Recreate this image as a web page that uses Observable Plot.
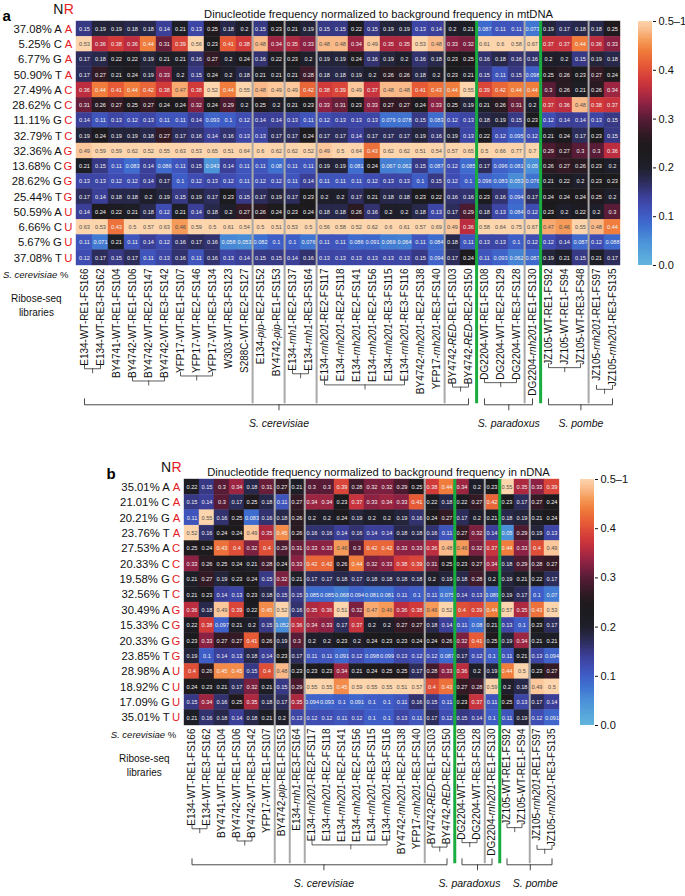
<!DOCTYPE html>
<html><head><meta charset="utf-8">
<script src="https://cdn.jsdelivr.net/npm/d3@7"></script>
<script src="https://cdn.jsdelivr.net/npm/@observablehq/plot@0.6"></script>
<style>
body{margin:0;background:#fff;}
#root{width:685px;}
.panel{position:relative;width:685px;height:448px;overflow:visible;}
.panel svg{position:absolute;top:0;overflow:visible;}
</style></head><body><div id="root"></div>
<script>
// ---------------- DATA ----------------
const titleA = "Dinucleotide frequency normalized to background frequency in mtDNA";
const titleB = "Dinucleotide frequency normalized to background frequency in nDNA";
const pctA = ["37.08%","5.25%","6.77%","50.90%","27.49%","28.62%","11.11%","32.79%","32.36%","13.68%","28.62%","25.44%","50.59%","6.66%","5.67%","37.08%"];
const pctB = ["35.01%","21.01%","20.21%","23.76%","27.53%","20.33%","19.58%","32.56%","30.49%","15.33%","20.33%","23.85%","28.98%","18.92%","17.09%","35.01%"];
const nLetters = ["A","C","G","T","A","C","G","T","A","C","G","T","A","C","G","T"];
const rLetters = ["A","A","A","A","C","C","C","C","G","G","G","G","U","U","U","U"];
const colorTicks = [0, 0.1, 0.2, 0.3, 0.4, 0.5];
const colorTickLabels = ["0.0","0.1","0.2","0.3","0.4","0.5–1"];

const colsA = ["E134-WT-RE1-FS166","E134-WT-RE3-FS162","BY4741-WT-RE1-FS104","BY4742-WT-RE1-FS106","BY4742-WT-RE2-FS147","BY4742-WT-RE3-FS142","YFP17-WT-RE1-FS107","YFP17-WT-RE2-FS146","YFP17-WT-RE3-FS134","W303-WT-RE3-FS123","S288C-WT-RE2-FS127","E134-pip-RE2-FS152","BY4742-pip-RE1-FS153","E134-rnh1-RE2-FS137","E134-rnh1-RE3-FS164","E134-rnh201-RE2-FS117","E134-rnh201-RE2-FS118","E134-rnh201-RE2-FS141","E134-rnh201-RE2-FS156","E134-rnh201-RE3-FS115","E134-rnh201-RE3-FS116","BY4742-rnh201-RE2-FS138","YFP17-rnh201-RE3-FS140","BY4742-RED-RE1-FS103","BY4742-RED-RE2-FS150","DG2204-WT-RE1-FS108","DG2204-WT-RE2-FS129","DG2204-WT-RE3-FS128","DG2204-rnh201-RE1-FS130","JZ105-WT-RE1-FS92","JZ105-WT-RE1-FS94","JZ105-WT-RE3-FS48","JZ105-rnh201-RE1-FS97","JZ105-rnh201-RE3-FS135"];

const valsA = [
 [0.15,0.19,0.19,0.18,0.18,0.14,0.21,0.13,0.25,0.18,0.2, 0.15,0.23, 0.21,0.19, 0.15,0.15,0.22,0.15,0.19,0.19,0.13,0.14, 0.2,0.21, 0.087,0.11,0.11, 0.073, 0.19,0.17,0.18, 0.18,0.25],
 [0.53,0.36,0.38,0.36,0.44,0.31,0.39,0.56,0.23,0.41,0.38, 0.48,0.34, 0.35,0.33, 0.48,0.48,0.34,0.49,0.35,0.35,0.53,0.48, 0.33,0.32, 0.61,0.6,0.58, 0.67, 0.37,0.37,0.44, 0.36,0.33],
 [0.17,0.18,0.22,0.22,0.19,0.21,0.21,0.16,0.27,0.2,0.24, 0.16,0.22, 0.23,0.2, 0.19,0.19,0.24,0.16,0.19,0.2,0.16,0.18, 0.23,0.25, 0.16,0.18,0.16, 0.16, 0.2,0.2,0.15, 0.19,0.18],
 [0.17,0.27,0.21,0.24,0.19,0.33,0.2,0.15,0.24,0.2,0.18, 0.21,0.21, 0.21,0.28, 0.18,0.18,0.19,0.2,0.26,0.26,0.18,0.2, 0.23,0.21, 0.15,0.11,0.15, 0.098, 0.25,0.26,0.23, 0.27,0.24],
 [0.36,0.44,0.41,0.44,0.42,0.38,0.47,0.38,0.52,0.44,0.55, 0.48,0.49, 0.49,0.42, 0.38,0.39,0.49,0.37,0.48,0.48,0.41,0.43, 0.44,0.55, 0.39,0.42,0.44, 0.44, 0.3,0.26,0.21, 0.26,0.34],
 [0.31,0.26,0.27,0.25,0.27,0.24,0.24,0.32,0.24,0.29,0.2, 0.25,0.2, 0.21,0.23, 0.33,0.31,0.23,0.33,0.27,0.27,0.24,0.33, 0.25,0.19, 0.21,0.26,0.31, 0.2, 0.37,0.36,0.48, 0.38,0.37],
 [0.14,0.11,0.13,0.12,0.13,0.11,0.11,0.14,0.093,0.1,0.12, 0.14,0.14, 0.13,0.11, 0.12,0.13,0.13,0.13,0.079,0.078,0.15,0.083, 0.12,0.13, 0.18,0.19,0.15, 0.23, 0.12,0.14,0.14, 0.13,0.15],
 [0.19,0.24,0.19,0.19,0.18,0.27,0.17,0.16,0.14,0.16,0.13, 0.13,0.17, 0.17,0.24, 0.17,0.17,0.14,0.17,0.17,0.17,0.19,0.16, 0.19,0.13, 0.22,0.12,0.095, 0.12, 0.21,0.24,0.17, 0.23,0.15],
 [0.49,0.59,0.59,0.62,0.52,0.55,0.63,0.53,0.65,0.51,0.64, 0.6,0.62, 0.62,0.52, 0.49,0.5,0.64,0.43,0.62,0.62,0.51,0.54, 0.57,0.65, 0.5,0.66,0.77, 0.7, 0.29,0.27,0.3, 0.3,0.36],
 [0.21,0.15,0.11,0.083,0.14,0.086,0.11,0.15,0.043,0.14,0.11, 0.11,0.08, 0.11,0.11, 0.19,0.19,0.081,0.24,0.067,0.062,0.15,0.087, 0.12,0.085, 0.17,0.096,0.081, 0.05, 0.26,0.27,0.26, 0.23,0.2],
 [0.13,0.13,0.12,0.12,0.14,0.17,0.1,0.12,0.13,0.12,0.11, 0.12,0.12, 0.11,0.14, 0.11,0.11,0.11,0.12,0.13,0.13,0.1,0.15, 0.12,0.1, 0.096,0.083,0.053, 0.076, 0.21,0.22,0.2, 0.23,0.23],
 [0.17,0.14,0.18,0.18,0.2,0.19,0.15,0.19,0.17,0.23,0.15, 0.17,0.19, 0.17,0.23, 0.2,0.2,0.17,0.21,0.18,0.18,0.23,0.22, 0.16,0.16, 0.23,0.16,0.094, 0.17, 0.24,0.24,0.24, 0.25,0.2],
 [0.14,0.24,0.22,0.21,0.18,0.12,0.21,0.14,0.18,0.2,0.27, 0.26,0.24, 0.23,0.24, 0.18,0.18,0.26,0.16,0.2,0.2,0.18,0.13, 0.17,0.29, 0.18,0.13,0.084, 0.12, 0.23,0.2,0.22, 0.2,0.3],
 [0.63,0.53,0.43,0.5,0.57,0.63,0.46,0.59,0.5,0.61,0.54, 0.5,0.51, 0.53,0.5, 0.56,0.58,0.52,0.62,0.6,0.61,0.57,0.69, 0.49,0.36, 0.58,0.64,0.75, 0.67, 0.47,0.46,0.55, 0.48,0.44],
 [0.11,0.071,0.21,0.11,0.14,0.12,0.16,0.17,0.16,0.058,0.053, 0.082,0.1, 0.1,0.076, 0.11,0.11,0.086,0.091,0.069,0.064,0.11,0.084, 0.18,0.11, 0.13,0.13,0.1, 0.12, 0.12,0.14,0.087, 0.12,0.088],
 [0.12,0.17,0.15,0.17,0.11,0.13,0.16,0.11,0.16,0.13,0.14, 0.15,0.15, 0.14,0.16, 0.13,0.13,0.13,0.13,0.13,0.13,0.15,0.094, 0.17,0.24, 0.11,0.093,0.062, 0.087, 0.19,0.21,0.15, 0.21,0.17]
];

const colsB = ["E134-WT-RE1-FS166","E134-WT-RE3-FS162","BY4741-WT-RE1-FS104","BY4742-WT-RE1-FS106","BY4742-WT-RE3-FS142","YFP17-WT-RE1-FS107","BY4742-pip-RE1-FS153","E134-rnh1-RE3-FS164","E134-rnh201-RE2-FS117","E134-rnh201-RE2-FS118","E134-rnh201-RE2-FS141","E134-rnh201-RE2-FS156","E134-rnh201-RE3-FS115","E134-rnh201-RE3-FS116","BY4742-rnh201-RE2-FS138","YFP17-rnh201-RE3-FS140","BY4742-RED-RE1-FS103","BY4742-RED-RE2-FS150","DG2204-WT-RE1-FS108","DG2204-WT-RE3-FS128","DG2204-rnh201-RE1-FS130","JZ105-WT-RE1-FS92","JZ105-WT-RE1-FS94","JZ105-rnh201-RE1-FS97","JZ105-rnh201-RE3-FS135"];

const valsB = [
 [0.22,0.15,0.3,0.34,0.18,0.31, 0.27, 0.21, 0.3,0.3,0.39,0.28,0.32,0.32,0.29,0.25, 0.38,0.44, 0.34,0.2, 0.23, 0.55,0.35, 0.33,0.39],
 [0.15,0.14,0.3,0.17,0.25,0.18, 0.11, 0.27, 0.34,0.34,0.23,0.37,0.33,0.34,0.33,0.41, 0.22,0.18, 0.22,0.27, 0.42, 0.23,0.17, 0.27,0.24],
 [0.11,0.55,0.16,0.25,0.083,0.16, 0.18, 0.26, 0.2,0.2,0.24,0.19,0.2,0.2,0.19,0.16, 0.24,0.27, 0.17,0.2, 0.21, 0.18,0.19, 0.21,0.24],
 [0.52,0.16,0.24,0.24,0.49,0.35, 0.45, 0.26, 0.16,0.16,0.14,0.16,0.14,0.14,0.18,0.18, 0.16,0.11, 0.27,0.32, 0.14, 0.05,0.29, 0.19,0.13],
 [0.25,0.24,0.43,0.4,0.32,0.4, 0.29, 0.31, 0.33,0.33,0.46,0.3,0.42,0.42,0.33,0.33, 0.36,0.48, 0.46,0.32, 0.37, 0.44,0.33, 0.4,0.49],
 [0.33,0.26,0.25,0.24,0.21,0.28, 0.24, 0.33, 0.42,0.42,0.26,0.44,0.32,0.33,0.38,0.39, 0.31,0.25, 0.23,0.27, 0.34, 0.18,0.29, 0.28,0.27],
 [0.21,0.27,0.19,0.23,0.24,0.15, 0.32, 0.21, 0.17,0.17,0.18,0.17,0.18,0.18,0.18,0.18, 0.2,0.19, 0.18,0.28, 0.2, 0.19,0.21, 0.22,0.17],
 [0.21,0.23,0.14,0.13,0.23,0.18, 0.15, 0.15, 0.085,0.085,0.068,0.094,0.081,0.081,0.11,0.1, 0.11,0.075, 0.14,0.13, 0.089, 0.19,0.17, 0.1,0.07],
 [0.36,0.18,0.49,0.39,0.22,0.45, 0.52, 0.16, 0.35,0.36,0.51,0.32,0.47,0.46,0.36,0.38, 0.46,0.52, 0.4,0.39, 0.44, 0.57,0.35, 0.43,0.53],
 [0.22,0.38,0.097,0.21,0.2,0.15, 0.052, 0.36, 0.34,0.33,0.17,0.37,0.2,0.2,0.27,0.27, 0.18,0.14, 0.11,0.08, 0.21, 0.13,0.1, 0.23,0.17],
 [0.23,0.33,0.27,0.27,0.41,0.26, 0.19, 0.3, 0.2,0.2,0.23,0.2,0.24,0.23,0.23,0.24, 0.24,0.26, 0.32,0.41, 0.25, 0.19,0.34, 0.21,0.21],
 [0.19,0.1,0.14,0.13,0.18,0.14, 0.23, 0.17, 0.11,0.11,0.091,0.12,0.098,0.099,0.13,0.12, 0.12,0.087, 0.17,0.12, 0.1, 0.11,0.21, 0.13,0.094],
 [0.4,0.26,0.45,0.45,0.15,0.4, 0.48, 0.23, 0.23,0.23,0.34,0.21,0.24,0.25,0.25,0.17, 0.28,0.33, 0.36,0.2, 0.19, 0.44,0.5, 0.23,0.27],
 [0.24,0.23,0.21,0.17,0.32,0.21, 0.15, 0.29, 0.55,0.55,0.45,0.59,0.55,0.55,0.51,0.57, 0.4,0.43, 0.27,0.28, 0.59, 0.2,0.18, 0.49,0.5],
 [0.15,0.34,0.16,0.25,0.35,0.18, 0.17, 0.35, 0.094,0.093,0.1,0.091,0.1,0.1,0.11,0.16, 0.15,0.11, 0.23,0.37, 0.11, 0.25,0.13, 0.17,0.14],
 [0.21,0.16,0.18,0.14,0.18,0.21, 0.2, 0.13, 0.12,0.12,0.11,0.12,0.1,0.1,0.13,0.11, 0.17,0.12, 0.15,0.14, 0.1, 0.11,0.19, 0.12,0.091]
];

const greyAfterA = ["S288C-WT-RE2-FS127","BY4742-pip-RE1-FS153","E134-rnh1-RE3-FS164","YFP17-rnh201-RE3-FS140","DG2204-WT-RE3-FS128","JZ105-WT-RE3-FS48"];
const greenAfterA = ["BY4742-RED-RE2-FS150","DG2204-rnh201-RE1-FS130"];
const greyAfterB = ["YFP17-WT-RE1-FS107","BY4742-pip-RE1-FS153","E134-rnh1-RE3-FS164","YFP17-rnh201-RE3-FS140","DG2204-WT-RE3-FS128","JZ105-WT-RE1-FS94"];
const greenAfterB = ["BY4742-RED-RE2-FS150","DG2204-rnh201-RE1-FS130"];

const replicatesA = [["E134-WT-RE1-FS166","E134-WT-RE3-FS162"],["BY4742-WT-RE1-FS106","BY4742-WT-RE3-FS142"],["YFP17-WT-RE1-FS107","YFP17-WT-RE3-FS134"],["E134-rnh1-RE2-FS137","E134-rnh1-RE3-FS164"],["E134-rnh201-RE2-FS117","E134-rnh201-RE3-FS116"],["BY4742-RED-RE1-FS103","BY4742-RED-RE2-FS150"],["DG2204-WT-RE1-FS108","DG2204-WT-RE3-FS128"],["JZ105-WT-RE1-FS92","JZ105-WT-RE3-FS48"],["JZ105-rnh201-RE1-FS97","JZ105-rnh201-RE3-FS135"]];
const replicatesB = [["E134-WT-RE1-FS166","E134-WT-RE3-FS162"],["BY4742-WT-RE1-FS106","BY4742-WT-RE3-FS142"],["E134-rnh201-RE2-FS117","E134-rnh201-RE3-FS116"],["BY4742-RED-RE1-FS103","BY4742-RED-RE2-FS150"],["DG2204-WT-RE1-FS108","DG2204-WT-RE3-FS128"],["JZ105-WT-RE1-FS92","JZ105-WT-RE1-FS94"],["JZ105-rnh201-RE1-FS97","JZ105-rnh201-RE3-FS135"]];

const speciesNames = ["S. cerevisiae","S. paradoxus","S. pombe"];
const speciesA = [["E134-WT-RE1-FS166","BY4742-RED-RE2-FS150"],["DG2204-WT-RE1-FS108","DG2204-rnh201-RE1-FS130"],["JZ105-WT-RE1-FS92","JZ105-rnh201-RE3-FS135"]];
const speciesB = [["E134-WT-RE1-FS166","BY4742-RED-RE2-FS150"],["DG2204-WT-RE1-FS108","DG2204-rnh201-RE1-FS130"],["JZ105-WT-RE1-FS92","JZ105-rnh201-RE3-FS135"]];

// ---------------- STYLE / LAYOUT ----------------
const FONT = '"Liberation Sans", Arial, Helvetica, sans-serif';
const STOPS = [[0,"#62b6dd"],[0.05,"#4a90d8"],[0.08,"#3e70d0"],[0.10,"#3f5dc6"],[0.12,"#3f4db2"],[0.14,"#3b3f98"],[0.16,"#32326f"],[0.18,"#28284a"],[0.20,"#1f1f2b"],[0.23,"#1c1b1e"],[0.25,"#201a1e"],[0.27,"#331a25"],[0.30,"#581c36"],[0.33,"#8c2243"],[0.36,"#bc2d3f"],[0.38,"#d23a3a"],[0.41,"#e65a36"],[0.44,"#f07d3c"],[0.46,"#f59a58"],[0.48,"#f9b988"],[0.50,"#fcd5ad"]];
const ramp = d3.scaleLinear().domain(STOPS.map(s => s[0])).range(STOPS.map(s => s[1])).interpolate(d3.interpolateRgb).clamp(true);
const colorOpts = {type: "linear", domain: [0, 0.5], clamp: true, interpolate: (t) => ramp(t * 0.5)};
const RED = "#e4201f";
const canvas = document.createElement("canvas");
const ctx = canvas.getContext("2d");

function styleTexts(svg) {
  d3.select(svg).selectAll("text").each(function() {
    if (this.querySelector("tspan")) return;
    const t = this.textContent;
    let parts = null, m;
    if ((m = t.match(/^(.*?-)(pip|rnh1|rnh201|RED)(-.*)$/))) parts = [[m[1], false], [m[2], true], [m[3], false]];
    else if (t === "S. cerevisiae %") parts = [["S. cerevisiae", true], [" %", false]];
    if (!parts) return;
    const sel = d3.select(this); sel.text(null);
    for (const [s, it] of parts) sel.append("tspan").attr("font-style", it ? "italic" : null).text(s);
  });
}

function makePanel(cfg) {
  const {cols, vals, pct, left, right, top, bottom, H, labelSize} = cfg;
  const n = cols.length;
  const bw = (right - left) / n;
  const pitch = (bottom - top) / 16;
  const U = px => (px - top) / pitch;
  const idx = c => cols.indexOf(c);
  const cells = [];
  vals.forEach((row, i) => row.forEach((v, j) => cells.push({row: i, col: cols[j], v})));
  const rows = d3.range(16);
  ctx.font = `${labelSize}px ${FONT}`;
  const labW = c => ctx.measureText(c).width;
  const labTop = bottom + 3;
  const maxLab = d3.max(cols, labW);
  const speciesY = labTop + maxLab + 9;
  const first = cols[0];

  const marks = [
    Plot.barY(cells, {x: "col", y1: "row", y2: d => d.row + 1, fill: "v", stroke: "v", strokeWidth: 0.4}),
    Plot.text(cells.filter(d => d.v < 0.455), {x: "col", y: d => d.row + 0.5, text: d => String(d.v), fill: "#f2f2f2", fontSize: 5.6}),
    Plot.text(cells.filter(d => d.v >= 0.455), {x: "col", y: d => d.row + 0.5, text: d => String(d.v), fill: "#505050", fontSize: 5.6}),
    Plot.ruleX(cfg.greys, {x: d => d, dx: bw / 2, y1: () => 0, y2: () => U(speciesY - 1), stroke: "#a9a9a9", strokeWidth: 2}),
    Plot.ruleX(cfg.greens, {x: d => d, dx: bw / 2, y1: () => 0, y2: () => U(speciesY - 1), stroke: "#19ad3f", strokeWidth: 3}),
    // row labels
    Plot.text(rows, {x: () => first, y: i => i + 0.5, text: i => pct[i] + " " + nLetters[i], textAnchor: "end", dx: -bw / 2 - 14.5, fontSize: 11.3, fill: "#111"}),
    Plot.text(rows, {x: () => first, y: i => i + 0.5, text: i => rLetters[i], textAnchor: "end", dx: -bw / 2 - 4, fontSize: 11.3, fill: RED}),
    // NR header
    Plot.text(["N"], {x: () => first, y: () => U(cfg.headY), text: d => d, textAnchor: "end", dx: -bw / 2 - 13, fontSize: 14, fill: "#111"}),
    Plot.text(["R"], {x: () => first, y: () => U(cfg.headY), text: d => d, textAnchor: "end", dx: -bw / 2 - 2.5, fontSize: 14, fill: RED}),
    // panel letter + title
    Plot.text([cfg.letter], {frameAnchor: "top-left", text: d => d, dx: cfg.letterX - left, dy: cfg.headY - top, textAnchor: "start", fontSize: 15, fontWeight: "bold", fill: "#000"}),
    Plot.text([cfg.title], {frameAnchor: "top-left", text: d => d, dx: cfg.titleX - left, dy: cfg.headY - top, textAnchor: "middle", fontSize: 11.2, fill: "#111"}),
    // under-heatmap labels
    Plot.text(["S. cerevisiae %"], {x: () => first, y: () => U(bottom + 9), text: d => d, textAnchor: "end", dx: -bw / 2 - 8, fontSize: 9.5, fill: "#111"}),
    Plot.text(["Ribose-seq\nlibraries"], {x: () => first, y: () => U(bottom + 27), text: d => d, textAnchor: "middle", lineAnchor: "top", lineHeight: 1.35, dx: -bw / 2 - 40, fontSize: 10, fill: "#111"}),
    // column labels
    Plot.text(cols, {x: d => d, y: () => U(labTop), text: d => d, rotate: -90, textAnchor: "end", fontSize: labelSize, fill: "#111"})
  ];
  // replicate brackets
  for (const [a, b] of cfg.replicates) {
    const i0 = idx(a), i1 = idx(b);
    const yb = labTop + d3.max(cols.slice(i0, i1 + 1), labW) + 3;
    const pts = [[a, yb - 4], [a, yb], [b, yb], [b, yb - 4]].map(([c, y]) => ({c, y: U(y)}));
    marks.push(Plot.line(pts, {x: "c", y: "y", stroke: "#333", strokeWidth: 0.8}));
    marks.push(Plot.ruleX([a], {x: d => d, dx: (i1 - i0) * bw / 2, y1: () => U(yb), y2: () => U(yb + 5), stroke: "#333", strokeWidth: 0.8}));
  }
  // species brackets
  cfg.species.forEach(([a, b], k) => {
    const i0 = idx(a), i1 = idx(b);
    const pts = [[a, speciesY - 6], [a, speciesY], [b, speciesY], [b, speciesY - 6]].map(([c, y]) => ({c, y: U(y)}));
    marks.push(Plot.line(pts, {x: "c", y: "y", stroke: "#333", strokeWidth: 0.9}));
    marks.push(Plot.ruleX([a], {x: d => d, dx: (i1 - i0) * bw / 2, y1: () => U(speciesY), y2: () => U(speciesY + 6), stroke: "#333", strokeWidth: 0.9}));
    marks.push(Plot.text([speciesNames[k]], {x: () => a, dx: (i1 - i0) * bw / 2 + cfg.speciesShift[k], y: () => U(speciesY + 19), text: d => d, fontStyle: "italic", fontSize: 10.5, fill: "#111"}));
  });

  const svg = Plot.plot({
    width: 685, height: H,
    marginLeft: left, marginRight: 685 - right, marginTop: top, marginBottom: H - bottom,
    x: {type: "band", domain: cols, padding: 0, axis: null},
    y: {type: "linear", domain: [0, 16], reverse: true, axis: null},
    color: colorOpts,
    style: {fontFamily: FONT, fontSize: "10px", overflow: "visible", background: "none", color: "#111"},
    marks
  });
  styleTexts(svg);
  svg.style.left = "0px";

  // colour bar
  const steps = d3.range(0, 0.5, 0.0025);
  const cb = Plot.plot({
    width: 60, height: H,
    marginLeft: 0, marginRight: 46, marginTop: top, marginBottom: H - bottom,
    x: {domain: [0, 1], axis: null},
    y: {domain: [0, 0.5], axis: "right", ticks: colorTicks, tickFormat: d => colorTickLabels[colorTicks.indexOf(d)], tickSize: 3, tickPadding: 3, label: null},
    color: colorOpts,
    style: {fontFamily: FONT, fontSize: "11px", overflow: "visible", background: "none", color: "#111"},
    marks: [Plot.rect(steps, {x1: () => 0, x2: () => 1, y1: d => d, y2: d => Math.min(0.5, d + 0.004), fill: d => d + 0.00125, shapeRendering: "crispEdges"})]
  });
  cb.style.left = cfg.cbX + "px";
  const div = document.createElement("div");
  div.className = "panel";
  div.append(svg, cb);
  return div;
}

const root = document.getElementById("root");
root.append(makePanel({
  cols: colsA, vals: valsA, pct: pctA, title: titleA, letter: "a",
  left: 72, right: 623, top: 21, bottom: 265, H: 448, labelSize: 10,
  headY: 9.5, letterX: 2, titleX: 378, cbX: 638, speciesShift: [0, 0, 0],
  greys: greyAfterA, greens: greenAfterA, replicates: replicatesA, species: speciesA
}));
root.append(makePanel({
  cols: colsB, vals: valsB, pct: pctB, title: titleB, letter: "b",
  left: 177, right: 565, top: 31, bottom: 277, H: 448, labelSize: 10,
  headY: 19.5, letterX: 106, titleX: 378, cbX: 580, speciesShift: [0, -8, 5],
  greys: greyAfterB, greens: greenAfterB, replicates: replicatesB, species: speciesB
}));
</script></body></html>
